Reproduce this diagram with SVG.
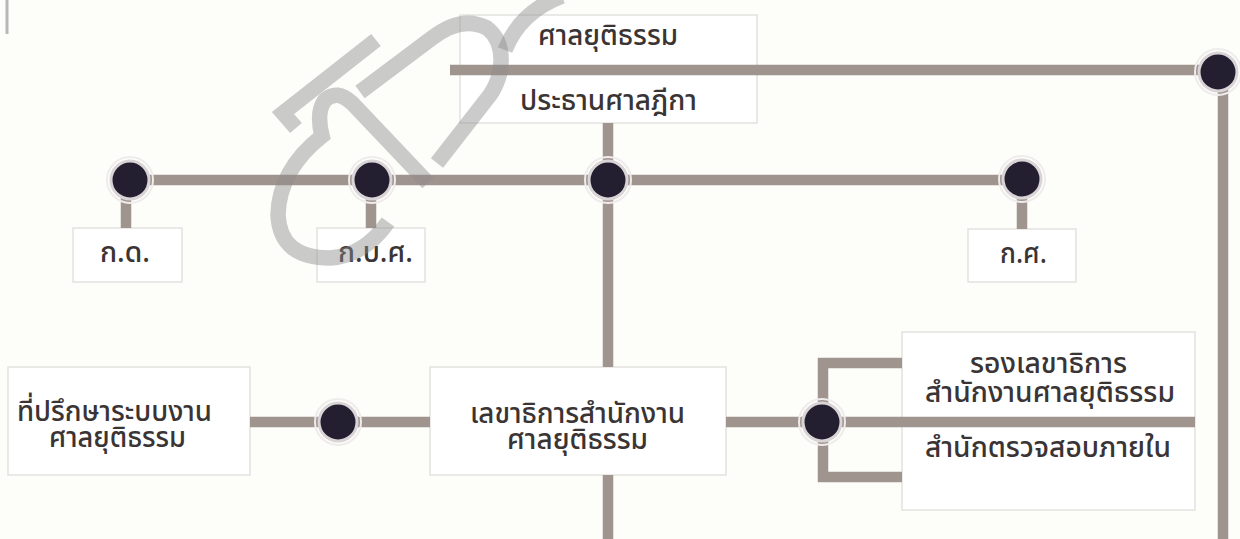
<svg xmlns="http://www.w3.org/2000/svg" width="1240" height="539" viewBox="0 0 1240 539">
<style>
.bg{fill:#fdfdfa}
.box{fill:#ffffff;stroke:#e4e2e0;stroke-width:1.5}
.ln{stroke:#a0948f;stroke-width:10.5;fill:none;stroke-linecap:butt}
.dot{fill:#241f30;stroke:#d9d4d6;stroke-width:3}
.halo{fill:none;stroke:#efecec;stroke-width:2}
.t{font-family:"Noto Sans Thai","Noto Sans Thai UI","Noto Sans","DejaVu Sans",sans-serif;font-size:28px;font-weight:500;fill:#3a3434}
.wm{fill:none;stroke:#8c8c8c;stroke-width:15.5;opacity:0.45;stroke-linecap:butt;stroke-linejoin:miter}
</style>
<rect class="bg" x="0" y="0" width="1240" height="539"/>
<line x1="7" y1="0" x2="7" y2="34" stroke="#b8b8b8" stroke-width="3"/>

<g id="n-court">
<rect class="box" x="460" y="15" width="297" height="108"/>
<text class="t" x="538" y="45" textLength="140" lengthAdjust="spacingAndGlyphs">ศาลยุติธรรม</text>
<text class="t" x="520" y="110" textLength="177" lengthAdjust="spacingAndGlyphs">ประธานศาลฎีกา</text>
</g>
<g id="n-kd">
<rect class="box" x="73" y="228" width="109" height="54"/>
<text class="t" x="100" y="262" textLength="50" lengthAdjust="spacingAndGlyphs">ก.ด.</text>
</g>
<g id="n-kbs">
<rect class="box" x="317" y="228" width="108" height="54"/>
<text class="t" x="338" y="262" textLength="75" lengthAdjust="spacingAndGlyphs">ก.บ.ศ.</text>
</g>
<g id="n-ks">
<rect class="box" x="968" y="229" width="108" height="53"/>
<text class="t" x="1000" y="263" textLength="47" lengthAdjust="spacingAndGlyphs">ก.ศ.</text>
</g>
<g id="n-advisor">
<rect class="box" x="8" y="367" width="242" height="108"/>
<text class="t" x="17" y="421" textLength="195" lengthAdjust="spacingAndGlyphs">ที่ปรึกษาระบบงาน</text>
<text class="t" x="49" y="447" textLength="137" lengthAdjust="spacingAndGlyphs">ศาลยุติธรรม</text>
</g>
<g id="n-secretary">
<rect class="box" x="430" y="367" width="296" height="108"/>
<text class="t" x="470" y="423" textLength="215" lengthAdjust="spacingAndGlyphs">เลขาธิการสำนักงาน</text>
<text class="t" x="507" y="449" textLength="141" lengthAdjust="spacingAndGlyphs">ศาลยุติธรรม</text>
</g>
<g id="n-deputy">
<rect class="box" x="902" y="332" width="293" height="178"/>
<text class="t" x="970" y="373" textLength="157" lengthAdjust="spacingAndGlyphs">รองเลขาธิการ</text>
<text class="t" x="925" y="402" textLength="250" lengthAdjust="spacingAndGlyphs">สำนักงานศาลยุติธรรม</text>
<text class="t" x="925" y="457" textLength="246" lengthAdjust="spacingAndGlyphs">สำนักตรวจสอบภายใน</text>
</g>

<g id="connectors">
<line class="ln" x1="450" y1="70" x2="1218" y2="70"/>
<line class="ln" x1="1223" y1="72" x2="1223" y2="539"/>
<line class="ln" x1="608" y1="123" x2="608" y2="367"/>
<line class="ln" x1="608" y1="475" x2="608" y2="539"/>
<line class="ln" x1="130" y1="180" x2="1022" y2="180"/>
<line class="ln" x1="126" y1="180" x2="126" y2="228"/>
<line class="ln" x1="371" y1="180" x2="371" y2="228"/>
<line class="ln" x1="1022" y1="180" x2="1022" y2="229"/>
<line class="ln" x1="250" y1="422" x2="430" y2="422"/>
<line class="ln" x1="726" y1="422" x2="1195" y2="422"/>
<path class="ln" d="M902 363 H823 V477 H902"/>
</g>

<g id="dots">
<circle class="halo" cx="1218" cy="72" r="23"/><circle class="dot" cx="1218" cy="72" r="19"/>
<circle class="halo" cx="130" cy="180" r="23"/><circle class="dot" cx="130" cy="180" r="19"/>
<circle class="halo" cx="372" cy="180" r="23"/><circle class="dot" cx="372" cy="180" r="19"/>
<circle class="halo" cx="608" cy="180" r="23"/><circle class="dot" cx="608" cy="180" r="19"/>
<circle class="halo" cx="1022" cy="179" r="23"/><circle class="dot" cx="1022" cy="179" r="19"/>
<circle class="halo" cx="338" cy="422" r="23"/><circle class="dot" cx="338" cy="422" r="19"/>
<circle class="halo" cx="822" cy="422" r="23"/><circle class="dot" cx="822" cy="422" r="19"/>
</g>

<g id="watermark">
<path class="wm" d="M376 40 L283 113 L296 128"/>
<path class="wm" d="M428 183 L352 103 Q337 89 325 100 Q316 112 322 136 Q279 170 278 215 Q280 258 330 258 Q364 256 388 222"/>
<path class="wm" d="M360 92 L432 38 Q462 15 487 28 Q505 42 500 72 Q497 85 490 95 L437 163"/>
<path class="wm" d="M505 50 Q520 12 562 -4"/>
</g>
</svg>
